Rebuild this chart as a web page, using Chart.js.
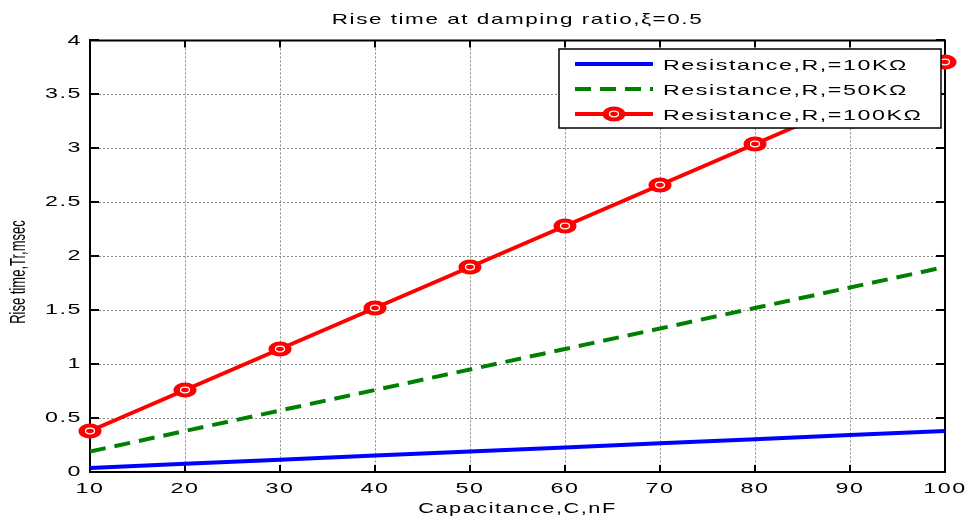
<!DOCTYPE html>
<html>
<head>
<meta charset="utf-8">
<title>Rise time at damping ratio</title>
<script src="https://cdn.jsdelivr.net/npm/chart.js@4.4.0/dist/chart.umd.min.js"></script>
<style>
  html, body { margin: 0; padding: 0; background: #fff; }
  canvas { display: block; }
</style>
</head>
<body>
<canvas id="riseTime" width="970" height="518"></canvas>
<script>
// capacitance in nF, rise time in msec (damping ratio 0.5)
const capacitance = [10, 20, 30, 40, 50, 60, 70, 80, 90, 100];
const rise10k  = [0.038, 0.076, 0.114, 0.152, 0.19, 0.228, 0.266, 0.304, 0.342, 0.38];
const rise50k  = [0.19, 0.38, 0.57, 0.76, 0.95, 1.14, 1.33, 1.52, 1.71, 1.9];
const rise100k = [0.38, 0.76, 1.14, 1.52, 1.9, 2.28, 2.66, 3.04, 3.42, 3.8];
const seriesNames = ['Resistance,R,=10K\u03A9', 'Resistance,R,=50K\u03A9', 'Resistance,R,=100K\u03A9'];
const xTickValues = [10, 20, 30, 40, 50, 60, 70, 80, 90, 100];
const yTickValues = [0, 0.5, 1, 1.5, 2, 2.5, 3, 3.5, 4];

const FONT = 'Liberation Sans, Arial, Helvetica, sans-serif';
const STRETCH = 1.55;   // the figure's text is drawn wide

// red "o" marker, an ellipse ring
function ringMarker() {
    const c = document.createElement('canvas');
    c.width = 24; c.height = 16;
    const g = c.getContext('2d');
    g.fillStyle = '#ff0000';
    g.beginPath(); g.ellipse(12, 8, 11.5, 7.5, 0, 0, Math.PI * 2); g.fill();
    g.strokeStyle = '#ffffff'; g.lineWidth = 1.3;
    g.beginPath(); g.ellipse(12, 8, 4.5, 2.8, 0, 0, Math.PI * 2); g.stroke();
    return c;
}
const marker = ringMarker();

// widen every label chart.js writes
const wideText = {
    id: 'wideText',
    beforeInit(chart) {
        const ctx = chart.ctx;
        const plain = ctx.fillText.bind(ctx);
        chart.$plainFill = plain;
        ctx.fillText = function (text, x, y, maxWidth) {
            ctx.save();
            ctx.translate(x, y);
            ctx.scale(STRETCH, 1);
            ctx.letterSpacing = '1px';
            if (maxWidth === undefined) plain(text, 0, 0);
            else plain(text, 0, 0, maxWidth / STRETCH);
            ctx.restore();
        };
    }
};

// top/right box edges and inward tick marks
const frame = {
    id: 'frame',
    beforeDatasetsDraw(chart) {
        const {ctx, chartArea: a, scales: {x, y}} = chart;
        ctx.save();
        ctx.strokeStyle = '#000';
        ctx.lineWidth = 2;
        ctx.beginPath();
        ctx.moveTo(a.left, a.top); ctx.lineTo(a.right, a.top); ctx.lineTo(a.right, a.bottom);
        xTickValues.forEach(v => {
            const px = Math.round(x.getPixelForValue(v));
            ctx.moveTo(px, a.bottom); ctx.lineTo(px, a.bottom - 7);
            ctx.moveTo(px, a.top); ctx.lineTo(px, a.top + 7);
        });
        yTickValues.forEach(v => {
            const py = Math.round(y.getPixelForValue(v));
            ctx.moveTo(a.left, py); ctx.lineTo(a.left + 9, py);
            ctx.moveTo(a.right, py); ctx.lineTo(a.right - 9, py);
        });
        ctx.stroke();
        ctx.restore();
    }
};

// boxed legend in the upper right, plus the rotated y title
const boxLegend = {
    id: 'boxLegend',
    afterDraw(chart) {
        const ctx = chart.ctx;
        const bx = 559, by = 49, bw = 382, bh = 79;
        ctx.save();
        ctx.fillStyle = '#fff';
        ctx.fillRect(bx, by, bw, bh);
        ctx.strokeStyle = '#000';
        ctx.lineWidth = 1.5;
        ctx.strokeRect(bx, by, bw, bh);

        chart.data.datasets.forEach((ds, i) => {
            const ly = by + 15 + i * 25;
            ctx.save();
            ctx.strokeStyle = ds.borderColor;
            ctx.lineWidth = ds.borderWidth;
            ctx.setLineDash(ds.borderDash || []);
            ctx.beginPath();
            ctx.moveTo(bx + 16, ly); ctx.lineTo(bx + 94, ly);
            ctx.stroke();
            ctx.restore();
            if (ds.pointRadius > 0) {
                ctx.drawImage(marker, bx + 55 - marker.width / 2, ly - marker.height / 2);
            }
            ctx.fillStyle = '#000';
            ctx.font = '15px ' + FONT;
            ctx.textAlign = 'left';
            ctx.textBaseline = 'middle';
            ctx.fillText(ds.label, bx + 104, ly + 2);
        });

        // y axis title, narrow glyphs
        ctx.translate(19, 272);
        ctx.rotate(-Math.PI / 2);
        ctx.scale(1, 1.65);
        ctx.fillStyle = '#000';
        ctx.font = '13px ' + FONT;
        ctx.textAlign = 'center';
        ctx.textBaseline = 'middle';
        chart.$plainFill('Rise time,Tr,msec', 0, 0);
        ctx.restore();
    }
};

const ctx1 = document.getElementById('riseTime').getContext('2d');
const riseChart = new Chart(ctx1, {
    type: 'line',
    data: {
        labels: capacitance,
        datasets: [{
                label: seriesNames[0],
                data: rise10k,
                borderColor: '#0000ff',
                borderWidth: 4,
                pointRadius: 0
            },
            {
                label: seriesNames[1],
                data: rise50k,
                borderColor: '#008000',
                borderWidth: 4,
                borderDash: [16, 9],
                pointRadius: 0
            },
            {
                label: seriesNames[2],
                data: rise100k,
                borderColor: '#ff0000',
                borderWidth: 4,
                pointStyle: marker,
                pointRadius: 8,
                clip: false
            }
        ]
    },
    options: {
        responsive: false,
        animation: false,
        devicePixelRatio: 1,
        tension: 0,
        layout: { padding: { left: 0, right: 25, top: 0, bottom: 0 } },
        plugins: {
            legend: { display: false },
            tooltip: { enabled: false },
            title: {
                display: true,
                fullSize: false,
                text: 'Rise time at damping ratio,\u03BE=0.5',
                color: '#000',
                font: { family: FONT, size: 14.5, weight: 'normal' },
                padding: { top: 11, bottom: 12 }
            }
        },
        scales: {
            x: {
                type: 'linear',
                min: 10,
                max: 100,
                afterBuildTicks: s => { s.ticks = xTickValues.map(v => ({value: v})); },
                afterFit: s => { s.height = 46; },
                grid: { color: '#8a8a8a', lineWidth: 1, drawTicks: false },
                border: { color: '#000', width: 2, dash: [2, 2] },
                ticks: { color: '#000', padding: 8, maxRotation: 0, font: { family: FONT, size: 15 },
                         callback: v => String(v) },
                title: {
                    display: true,
                    text: 'Capacitance,C,nF',
                    color: '#000',
                    padding: { top: 0, bottom: 0 },
                    font: { family: FONT, size: 14 }
                }
            },
            y: {
                min: 0,
                max: 4,
                afterBuildTicks: s => { s.ticks = yTickValues.map(v => ({value: v})); },
                afterFit: s => { s.width = 90; },
                grid: { color: '#8a8a8a', lineWidth: 1, drawTicks: false },
                border: { color: '#000', width: 2, dash: [2, 2] },
                ticks: { color: '#000', padding: 8, font: { family: FONT, size: 15 },
                         callback: v => String(v) }
            }
        }
    },
    plugins: [wideText, frame, boxLegend]
});
</script>
</body>
</html>
